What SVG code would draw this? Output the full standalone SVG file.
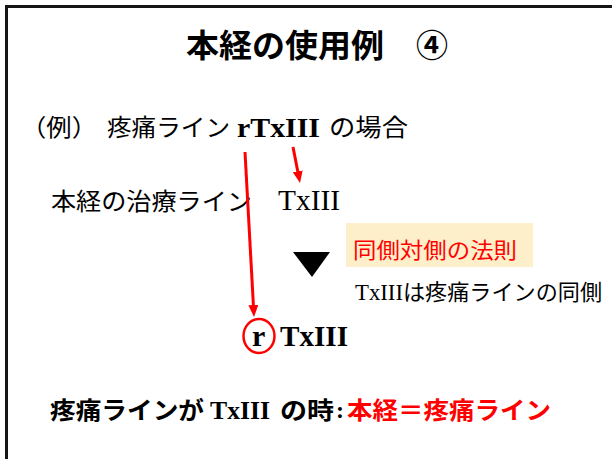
<svg xmlns="http://www.w3.org/2000/svg" width="612" height="459" viewBox="0 0 612 459">
  <style>
    .jp { font-family: "Noto Sans CJK JP", "Liberation Sans", sans-serif; fill: #000; }
    .b { font-weight: bold; }
    .tm { font-family: "Liberation Serif", "Times New Roman", serif; fill: #000; }
    .red { fill: #FF0000; }
    .frame { stroke: #151515; stroke-width: 3; fill: none; }
    .arrow { stroke: #FF0000; stroke-width: 3; fill: none; marker-end: url(#ah); }
  </style>
  <defs>
    <marker id="ah" markerUnits="userSpaceOnUse" markerWidth="12" markerHeight="10" viewBox="0 0 12 10" refX="4" refY="5" orient="auto">
      <path d="M0,0 L12,5 L0,10 z" fill="#FF0000"/>
    </marker>
  </defs>
  <rect x="0" y="0" width="612" height="459" fill="#FFFFFF"/>
  <g id="frame">
    <line class="frame" x1="5" y1="6.5" x2="612" y2="6.5"/>
    <line class="frame" x1="6.5" y1="5" x2="6.5" y2="459"/>
  </g>
  <g id="title">
    <text class="jp b" x="186" y="57" font-size="32" textLength="198" lengthAdjust="spacingAndGlyphs">本経の使用例</text>
    <text class="jp b" x="416" y="57" font-size="32" textLength="32" lengthAdjust="spacingAndGlyphs">④</text>
  </g>
  <g id="example">
    <text class="jp" x="21" y="136" font-size="24" textLength="76" lengthAdjust="spacingAndGlyphs">（例）</text>
    <text class="jp" x="107" y="136" font-size="24" textLength="123" lengthAdjust="spacingAndGlyphs">疼痛ライン</text>
    <text class="tm b" x="237" y="137" font-size="27" textLength="83" lengthAdjust="spacingAndGlyphs">rTxIII</text>
    <text class="jp" x="329" y="136" font-size="24" textLength="79" lengthAdjust="spacingAndGlyphs">の場合</text>
  </g>
  <g id="main-line">
    <text class="jp" x="51" y="210" font-size="24" textLength="201" lengthAdjust="spacingAndGlyphs">本経の治療ライン</text>
    <text class="tm" x="278" y="210" font-size="30" textLength="62" lengthAdjust="spacingAndGlyphs">TxIII</text>
  </g>
  <g id="rule">
    <rect x="346" y="223" width="187" height="44" fill="#FEEFCB"/>
    <text class="jp red" x="353" y="258" font-size="22" textLength="164" lengthAdjust="spacingAndGlyphs">同側対側の法則</text>
  </g>
  <g id="rule-note">
    <text class="tm" x="355" y="300" font-size="23" textLength="48" lengthAdjust="spacingAndGlyphs">TxIII</text>
    <text class="jp" x="403" y="300" font-size="22" textLength="199" lengthAdjust="spacingAndGlyphs">は疼痛ラインの同側</text>
  </g>
  <g id="down-triangle">
    <polygon points="293,252 330,252 312,277" fill="#000"/>
  </g>
  <g id="result">
    <ellipse cx="259" cy="336" rx="15.5" ry="17" fill="none" stroke="#FF0000" stroke-width="2.5"/>
    <text class="tm b" x="252" y="346" font-size="30">r</text>
    <text class="tm b" x="280" y="346" font-size="30" textLength="68" lengthAdjust="spacingAndGlyphs">TxIII</text>
  </g>
  <g id="conclusion">
    <text class="jp b" x="50" y="419" font-size="24" textLength="154" lengthAdjust="spacingAndGlyphs">疼痛ラインが</text>
    <text class="tm b" x="210" y="419" font-size="26" textLength="60" lengthAdjust="spacingAndGlyphs">TxIII</text>
    <text class="jp b" x="280" y="419" font-size="24" textLength="54" lengthAdjust="spacingAndGlyphs">の時</text>
    <text class="tm b" x="336" y="418" font-size="24">:</text>
    <text class="jp b red" x="347" y="419" font-size="24" textLength="204" lengthAdjust="spacingAndGlyphs">本経＝疼痛ライン</text>
  </g>
  <g id="connectors">
    <line class="arrow" x1="293" y1="147" x2="298.5" y2="175.2"/>
    <line class="arrow" x1="245" y1="152" x2="253.6" y2="309"/>
  </g>
</svg>
